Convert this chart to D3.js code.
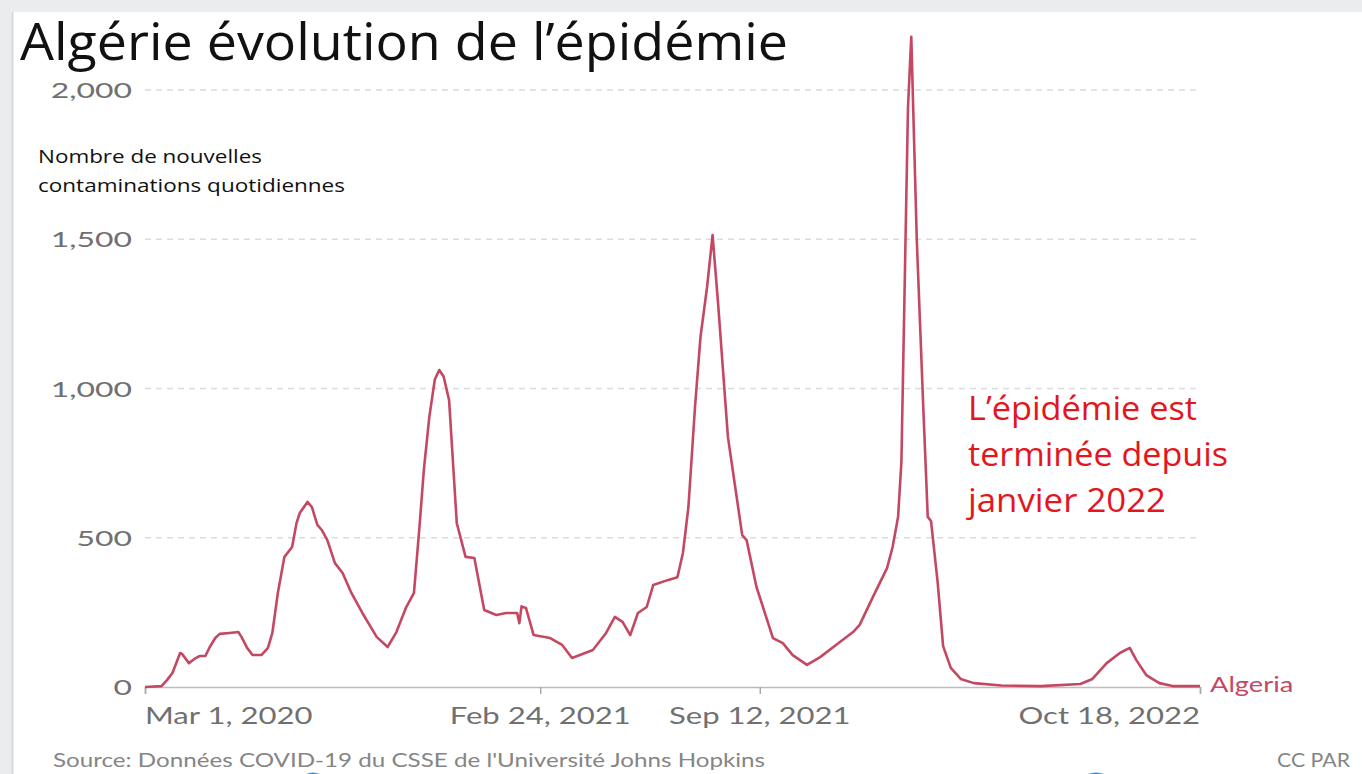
<!DOCTYPE html>
<html lang="fr">
<head>
<meta charset="UTF-8">
<title>Algérie évolution de l'épidémie</title>
<script src="https://d3js.org/d3.v7.min.js"></script>
<style>
  body { margin: 0; background: #ebecee; }
  .tick-label { font-family: Lato, sans-serif; fill: #707070; }
  .ppt { font-family: "Open Sans", sans-serif; }
</style>
</head>
<body>
<svg width="1362" height="774"></svg>
<script>
// daily new cases, 7-day average
const dates = [
  "2020-03-01","2020-03-16","2020-03-21","2020-03-26","2020-04-02","2020-04-04","2020-04-10","2020-04-15",
  "2020-04-20","2020-04-25","2020-04-29","2020-05-04","2020-05-08","2020-05-17","2020-05-25","2020-05-28",
  "2020-06-02","2020-06-07","2020-06-15","2020-06-21","2020-06-25","2020-06-30","2020-07-06","2020-07-13",
  "2020-07-17","2020-07-20","2020-07-27","2020-07-31","2020-08-05","2020-08-09","2020-08-14","2020-08-21",
  "2020-08-28","2020-09-05","2020-09-15","2020-09-28","2020-10-08","2020-10-16","2020-10-25","2020-11-01",
  "2020-11-06","2020-11-10","2020-11-15","2020-11-20","2020-11-24","2020-11-28","2020-12-03","2020-12-10","2020-12-18","2020-12-26",
  "2021-01-04","2021-01-15","2021-01-24","2021-02-03","2021-02-05","2021-02-07","2021-02-11","2021-02-18",
  "2021-03-05","2021-03-16","2021-03-25","2021-04-13","2021-04-25","2021-05-03","2021-05-10","2021-05-17",
  "2021-05-24","2021-06-01","2021-06-07","2021-06-20","2021-06-29","2021-07-04","2021-07-09","2021-07-15",
  "2021-07-20","2021-07-26","2021-07-31","2021-08-05","2021-08-14","2021-08-27","2021-08-31","2021-09-09",
  "2021-09-24","2021-10-03","2021-10-12","2021-10-25","2021-11-06","2021-11-24","2021-12-06","2021-12-12",
  "2021-12-24","2022-01-06","2022-01-11","2022-01-16","2022-01-19","2022-01-22","2022-01-25","2022-01-28",
  "2022-02-02","2022-02-08","2022-02-12","2022-02-15","2022-02-21","2022-02-26","2022-03-05","2022-03-14",
  "2022-03-26","2022-04-20","2022-05-26","2022-07-01","2022-07-12","2022-07-25","2022-08-06","2022-08-15",
  "2022-08-21","2022-08-30","2022-09-11","2022-09-23","2022-10-18"
];
const cases = [
  0, 3, 23, 47, 114, 110, 80, 94,
  104, 104, 134, 164, 178, 181, 184, 167,
  131, 107, 107, 131, 181, 315, 436, 469,
  549, 583, 620, 603, 543, 526, 493, 415,
  382, 315, 248, 168, 134, 184, 268, 315,
  536, 727, 905, 1030, 1062, 1040, 961, 549, 436, 432,
  258, 241, 248, 248, 214, 270, 265, 174,
  164, 141, 97, 124, 181, 235, 218, 174,
  248, 268, 342, 358, 368, 449, 603, 938,
  1173, 1340, 1514, 1286, 837, 509, 492, 335,
  164, 147, 107, 74, 100, 151, 184, 208,
  301, 399, 469, 570, 754, 1347, 1940, 2178,
  1500, 931, 570, 556, 352, 137, 64, 27,
  13, 5, 3, 10, 27, 80, 114, 131,
  90, 40, 13, 3, 3
];

const yTicks = [0, 500, 1000, 1500, 2000];
const xTicks = ["2020-03-01", "2021-02-24", "2021-09-12", "2022-10-18"];
const xTickLabels = ["Mar 1, 2020", "Feb 24, 2021", "Sep 12, 2021", "Oct 18, 2022"];
const noteLines = ["L\u2019épidémie est", "terminée depuis", "janvier 2022"];
const yTitleLines = ["Nombre de nouvelles", "contaminations quotidiennes"];

const parse = d3.timeParse("%Y-%m-%d");
const series = dates.map((d, i) => ({ date: parse(d), value: cases[i] }));

const svg = d3.select("svg");
const stretch = 1.38;   // the screenshot is stretched horizontally

// background panel
svg.append("rect").attr("x", 12).attr("y", 12).attr("width", 1350).attr("height", 762).attr("fill", "#fff");
svg.append("line").attr("x1", 12.5).attr("x2", 12.5).attr("y1", 12).attr("y2", 774)
   .attr("stroke", "#d9d9db").attr("stroke-width", 2);

const x = d3.scaleTime()
  .domain([parse("2020-03-01"), parse("2022-10-18")])
  .range([145, 1200]);
const y = d3.scaleLinear().domain([0, 2000]).range([687, 90]);

// grid
svg.append("g").selectAll("line")
  .data(yTicks.filter(d => d > 0))
  .join("line")
  .attr("x1", 145).attr("x2", 1200)
  .attr("y1", d => y(d)).attr("y2", d => y(d))
  .attr("stroke", "#dcdcdc").attr("stroke-width", 1.3)
  .attr("stroke-dasharray", "6,5");

// y labels
svg.append("g").selectAll("text")
  .data(yTicks)
  .join("text")
  .attr("class", "tick-label")
  .attr("transform", d => `translate(132,${y(d) + 8}) scale(1.45,1)`)
  .attr("text-anchor", "end")
  .attr("font-size", 22)
  .text(d => d3.format(",")(d));

// x axis
const xAxis = d3.axisBottom(x)
  .tickValues(xTicks.map(parse))
  .tickSize(7)
  .tickFormat("");
const gx = svg.append("g").attr("transform", "translate(0,687)").call(xAxis);
gx.select(".domain").attr("stroke", "#bdbdbd").attr("stroke-width", 1.5);
gx.selectAll(".tick line").attr("stroke", "#a8a8a8").attr("stroke-width", 1.5);

svg.append("g").selectAll("text")
  .data(xTicks)
  .join("text")
  .attr("class", "tick-label")
  .attr("font-size", 22.5)
  .attr("text-anchor", (d, i) => i === 0 ? "start" : i === xTicks.length - 1 ? "end" : "middle")
  .attr("transform", d => `translate(${x(parse(d))},724) scale(${stretch},1)`)
  .text((d, i) => xTickLabels[i]);

// line
svg.append("path")
  .datum(series)
  .attr("fill", "none")
  .attr("stroke", "#c44862")
  .attr("stroke-width", 2.6)
  .attr("stroke-linejoin", "round")
  .attr("d", d3.line().x(d => x(d.date)).y(d => y(d.value)));

const last = series[series.length - 1];
svg.append("text")
  .attr("class", "tick-label")
  .attr("transform", `translate(${x(last.date) + 10},${y(last.value) + 6}) scale(1.3,1)`)
  .attr("font-size", 21)
  .style("fill", "#c44862")
  .text("Algeria");

// title
svg.append("text")
  .attr("class", "ppt")
  .attr("x", 20).attr("y", 60)
  .attr("font-size", 52)
  .attr("fill", "#111")
  .attr("textLength", 768)
  .attr("lengthAdjust", "spacingAndGlyphs")
  .text("Algérie évolution de l\u2019épidémie");

// y title
const yTitleWidths = [224, 307];
svg.append("g").selectAll("text")
  .data(yTitleLines)
  .join("text")
  .attr("class", "ppt")
  .attr("x", 38).attr("y", (d, i) => 163 + i * 29)
  .attr("font-size", 18)
  .attr("fill", "#111")
  .attr("textLength", (d, i) => yTitleWidths[i])
  .attr("lengthAdjust", "spacingAndGlyphs")
  .text(d => d);

// annotation
const noteWidths = [229, 260, 198];
svg.append("g").selectAll("text")
  .data(noteLines)
  .join("text")
  .attr("class", "ppt")
  .attr("x", 968).attr("y", (d, i) => 420 + i * 46)
  .attr("font-size", 32)
  .attr("fill", "#e3161c")
  .attr("textLength", (d, i) => noteWidths[i])
  .attr("lengthAdjust", "spacingAndGlyphs")
  .text(d => d);

// footer
svg.append("text")
  .attr("class", "tick-label")
  .attr("x", 53).attr("y", 767)
  .attr("font-size", 19)
  .style("fill", "#858585")
  .attr("textLength", 712)
  .attr("lengthAdjust", "spacingAndGlyphs")
  .text("Source: Données COVID-19 du CSSE de l'Université Johns Hopkins");
svg.append("text")
  .attr("class", "tick-label")
  .attr("x", 1277).attr("y", 767)
  .attr("font-size", 19)
  .style("fill", "#858585")
  .attr("textLength", 73)
  .attr("lengthAdjust", "spacingAndGlyphs")
  .text("CC PAR");

// fragments of logos at the bottom edge
svg.append("circle").attr("cx", 313).attr("cy", 788).attr("r", 14)
   .attr("fill", "none").attr("stroke", "#3b8fe0").attr("stroke-width", 3);
svg.append("circle").attr("cx", 1096).attr("cy", 794).attr("r", 20)
   .attr("fill", "none").attr("stroke", "#3b8fe0").attr("stroke-width", 3);
</script>
</body>
</html>
